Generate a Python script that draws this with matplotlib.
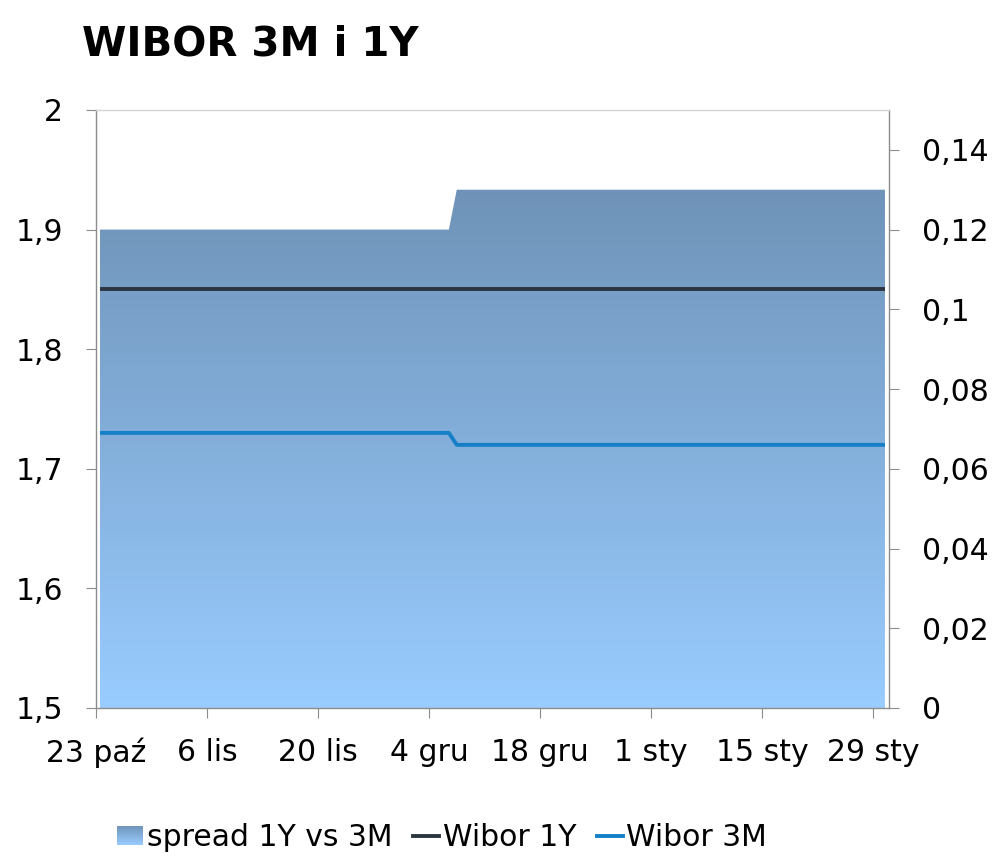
import numpy as np
import pandas as pd
import matplotlib
matplotlib.use("Agg")
import matplotlib.pyplot as plt
import matplotlib.dates as mdates
from matplotlib.colors import LinearSegmentedColormap
from matplotlib.legend_handler import HandlerBase
from matplotlib.patches import Rectangle
from matplotlib.lines import Line2D
from matplotlib.ticker import FuncFormatter, MultipleLocator

# data (values change between 6 and 7 Dec)
dates = ["2016-10-23", "2016-12-06", "2016-12-07", "2017-01-30"]
wibor_1y = [1.85, 1.85, 1.85, 1.85]
wibor_3m = [1.73, 1.73, 1.72, 1.72]
spread = [0.12, 0.12, 0.13, 0.13]

tick_dates = ["2016-10-23", "2016-11-06", "2016-11-20", "2016-12-04",
              "2016-12-18", "2017-01-01", "2017-01-15", "2017-01-29"]
tick_labels = ["23 paź", "6 lis", "20 lis", "4 gru",
               "18 gru", "1 sty", "15 sty", "29 sty"]

FS = 21.5
plt.rcParams["font.family"] = "DejaVu Sans"
plt.rcParams["font.size"] = FS

grad_cmap = LinearSegmentedColormap.from_list("spread", ["#99ccff", "#6f93b8"])
axis_grey = "#8c8c8c"


def comma_fmt(v, pos):
    return ("%g" % round(v, 4)).replace(".", ",")


class GradientHandler(HandlerBase):
    # legend square filled with the same vertical gradient as the area
    def create_artists(self, legend, orig_handle, xdescent, ydescent,
                       width, height, fontsize, trans):
        n = 24
        arts = []
        for i in range(n):
            r = Rectangle((-xdescent, -ydescent + height * i / n), width,
                          height / n * 1.05, facecolor=grad_cmap((i + 0.5) / n),
                          edgecolor="none", transform=trans)
            arts.append(r)
        return arts


fig = plt.figure(figsize=(9.98, 8.64), dpi=100)
ax = fig.add_axes([0.0962, 0.1806, 0.7945, 0.6921])
ax2 = ax.twinx()
ax.set_zorder(ax2.get_zorder() + 1)
ax.patch.set_visible(False)

x = pd.to_datetime(dates) + pd.Timedelta(hours=12)
xn = mdates.date2num(x)
x0 = mdates.date2num(pd.Timestamp("2016-10-23"))
x1 = mdates.date2num(pd.Timestamp("2017-01-31"))

# spread area with vertical gradient (right axis)
poly = ax2.fill_between(xn, spread, 0, facecolor="none", edgecolor="none")
grad = np.linspace(0, 1, 256).reshape(-1, 1)
im = ax2.imshow(grad, cmap=grad_cmap, origin="lower", aspect="auto",
                extent=[x0, x1, 0, max(spread)], interpolation="bicubic")
im.set_clip_path(poly.get_paths()[0], transform=ax2.transData)

# lines (left axis)
ax.plot(xn, wibor_1y, color="#2d3540", lw=2.8, solid_capstyle="butt")
ax.plot(xn, wibor_3m, color="#1580c8", lw=2.8, solid_capstyle="butt")

ax.set_xlim(x0, x1)
ax.set_ylim(1.5, 2.0)
ax2.set_ylim(0, 0.15)

ax.set_xticks(mdates.date2num(pd.to_datetime(tick_dates)))
ax.set_xticklabels(tick_labels)
ax.yaxis.set_major_locator(MultipleLocator(0.1))
ax.yaxis.set_major_formatter(FuncFormatter(comma_fmt))
ax2.yaxis.set_major_locator(MultipleLocator(0.02))
ax2.yaxis.set_major_formatter(FuncFormatter(comma_fmt))
ax2.set_ylim(0, 0.15)

for s in ax2.spines.values():
    s.set_visible(False)
for side in ["left", "bottom", "right"]:
    ax.spines[side].set_color(axis_grey)
    ax.spines[side].set_linewidth(1)
ax.spines["top"].set_color("#d4d4d4")
ax.spines["top"].set_linewidth(1)

ax.tick_params(axis="both", direction="out", length=7.5, width=0.8,
               color=axis_grey, right=False, labelsize=FS)
ax.tick_params(axis="y", pad=16)
ax.tick_params(axis="x", pad=14)
ax2.tick_params(axis="y", direction="out", length=7.5, width=0.8,
                color=axis_grey, labelsize=FS, pad=16)

fig.text(0.082, 0.949, "WIBOR 3M i 1Y", fontsize=29, fontweight="bold",
         ha="left", va="center")

handles = [Rectangle((0, 0), 1, 1),
           Line2D([], [], color="#2d3540", lw=2.8),
           Line2D([], [], color="#1580c8", lw=2.8)]
labels = ["spread 1Y vs 3M", "Wibor 1Y", "Wibor 3M"]
fig.legend(handles, labels, loc="center", bbox_to_anchor=(0.443, 0.031),
           ncol=3, frameon=False, fontsize=FS, handlelength=0.87,
           handleheight=0.6, handletextpad=0.12, columnspacing=0.7,
           borderaxespad=0, handler_map={Rectangle: GradientHandler()})

fig.savefig("out.png", dpi=100)
